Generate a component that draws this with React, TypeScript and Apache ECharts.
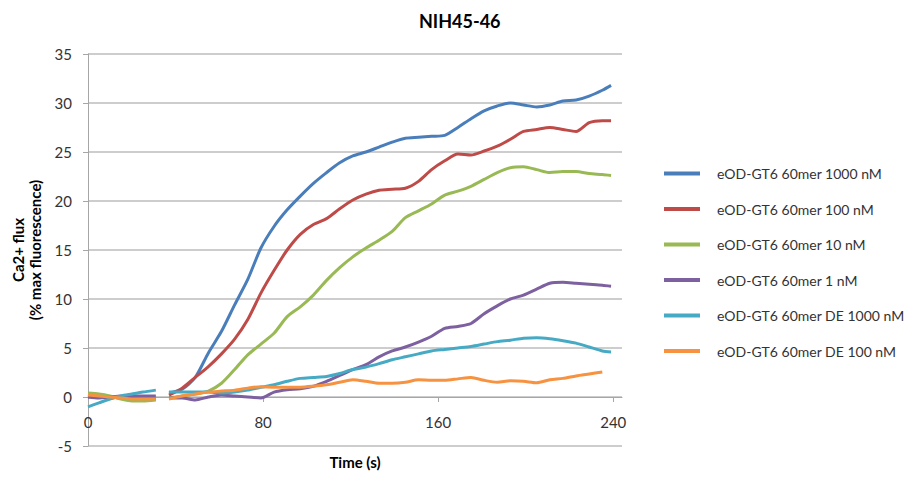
import React, { useEffect, useRef } from "react";
import * as echarts from "echarts";

const times = [
  0, 5, 10, 15, 20, 25, 31, 34, 37, 43, 49, 55, 61, 67, 73, 79, 85, 91, 97, 103, 109, 115, 121, 127, 133,
  139, 145, 151, 157, 163, 169, 175, 181, 187, 193, 199, 205, 211, 217, 223, 229, 235, 239,
];

const seriesNames = [
  "eOD-GT6 60mer 1000 nM",
  "eOD-GT6 60mer 100 nM",
  "eOD-GT6 60mer 10 nM",
  "eOD-GT6 60mer 1 nM",
  "eOD-GT6 60mer DE 1000 nM",
  "eOD-GT6 60mer DE 100 nM",
];

const colors = ["#4a7ebb", "#be4b48", "#98b954", "#7d60a0", "#46aac5", "#f69240"];

const s1000 = [
  0.0, 0.1, 0.0, -0.1, -0.2, -0.2, -0.2, null,
  0.4, 0.8, 2.0, 4.5, 6.7, 9.4, 12.0, 15.2, 17.4, 19.1, 20.5, 21.8, 22.9, 23.9, 24.6, 25.0, 25.5, 26.0,
  26.4, 26.5, 26.6, 26.7, 27.5, 28.4, 29.2, 29.7, 30.0, 29.8, 29.6, 29.8, 30.2, 30.3, 30.7, 31.3, 31.8,
];
const s100 = [
  0.1, 0.0, -0.1, 0.0, -0.1, -0.2, -0.2, null,
  0.2, 0.9, 2.0, 3.1, 4.4, 5.9, 7.9, 10.6, 12.9, 15.0, 16.6, 17.6, 18.2, 19.2, 20.1, 20.7, 21.1, 21.2,
  21.3, 22.0, 23.2, 24.1, 24.8, 24.7, 25.1, 25.6, 26.3, 27.1, 27.3, 27.5, 27.3, 27.1, 28.0, 28.2, 28.2,
];
const s10 = [
  0.4, 0.3, 0.1, -0.2, -0.4, -0.4, -0.3, null,
  -0.1, 0.1, 0.3, 0.6, 1.4, 2.8, 4.3, 5.4, 6.5, 8.2, 9.2, 10.4, 11.9, 13.2, 14.3, 15.2, 16.0, 16.9,
  18.3, 19.0, 19.7, 20.6, 21.0, 21.5, 22.2, 22.9, 23.4, 23.5, 23.2, 22.9, 23.0, 23.0, 22.8, 22.7, 22.6,
];
const s1 = [
  0.0, -0.1, 0.0, 0.1, 0.1, 0.1, 0.1, null,
  -0.1, -0.1, -0.3, 0.0, 0.2, 0.1, 0.0, -0.1, 0.5, 0.75, 0.85, 1.1, 1.6, 2.2, 2.8, 3.3, 4.1, 4.7,
  5.1, 5.6, 6.2, 7.0, 7.2, 7.5, 8.5, 9.3, 10.0, 10.4, 11.0, 11.6, 11.7, 11.6, 11.5, 11.4, 11.3,
];
const sDE1000 = [
  -1.0, -0.6, -0.2, 0.1, 0.3, 0.5, 0.7, null,
  0.5, 0.5, 0.5, 0.5, 0.4, 0.5, 0.7, 1.0, 1.25, 1.6, 1.9, 2.0, 2.1, 2.4, 2.8, 3.05, 3.4, 3.8,
  4.1, 4.4, 4.7, 4.85, 5.0, 5.15, 5.4, 5.65, 5.8, 6.0, 6.05, 5.95, 5.75, 5.5, 5.1, 4.7, 4.6,
];
const sDE100 = [
  0.2, 0.1, 0.0, -0.1, -0.2, -0.2, -0.2, null,
  -0.2, 0.1, 0.3, 0.5, 0.6, 0.7, 0.9, 1.05, 1.0, 1.0, 1.0, 1.1, 1.25, 1.5, 1.75, 1.6, 1.4, 1.4,
  1.5, 1.75, 1.7, 1.7, 1.85, 2.0, 1.7, 1.5, 1.65, 1.6, 1.45, 1.75, 1.9, 2.15, 2.35, 2.55, null,
];

const allValues = [s1000, s100, s10, s1, sDE1000, sDE100];
const xTickValues = [0, 80, 160, 240];

const FONT = "Lato, 'Open Sans', sans-serif";

export default function App() {
  const ref = useRef<HTMLDivElement>(null);

  useEffect(() => {
    if (!ref.current) return;
    const chart = echarts.init(ref.current, undefined, { renderer: "svg" });
    const series = allValues.map((vals, i) => ({
      name: seriesNames[i],
      type: "line",
      showSymbol: false,
      symbol: "none",
      smooth: 0.25,
      connectNulls: false,
      lineStyle: { width: 3, color: colors[i] },
      itemStyle: { color: colors[i] },
      data: times.map((t, j) => [t, vals[j] === null ? "-" : vals[j]]),
    }));

    chart.setOption({
      animation: false,
      backgroundColor: "#ffffff",
      textStyle: { fontFamily: FONT },
      title: {
        text: "NIH45-46",
        left: 414,
        top: 7,
        textStyle: { fontFamily: FONT, fontSize: 18, fontWeight: "bold", color: "#000" },
      },
      grid: {
        left: 88,
        right: 284,
        top: 54,
        bottom: 31,
        containLabel: false,
        outerBoundsMode: "none",
      },
      legend: {
        orient: "vertical",
        left: 664,
        top: 165,
        padding: 0,
        itemWidth: 36,
        itemHeight: 4,
        itemGap: 18.5,
        icon: "rect",
        data: seriesNames,
        textStyle: {
          fontFamily: FONT,
          fontSize: 14,
          color: "#333",
          lineHeight: 17,
          padding: [0, 0, 0, 12],
        },
      },
      xAxis: {
        type: "value",
        min: 0,
        max: 244,
        interval: 80,
        offset: -49,
        name: "Time (s)",
        nameLocation: "middle",
        nameGap: 57,
        nameTextStyle: { fontFamily: FONT, fontSize: 15, fontWeight: "bold", color: "#000" },
        axisLine: { onZero: false, lineStyle: { color: "#a6a6a6", width: 1 } },
        axisTick: { show: true, length: 5, lineStyle: { color: "#a6a6a6" }, customValues: xTickValues },
        axisLabel: {
          customValues: xTickValues,
          margin: 17,
          fontFamily: FONT,
          fontSize: 15,
          color: "#333",
          formatter: (v: number) => (xTickValues.indexOf(v) >= 0 ? String(v) : ""),
        },
        splitLine: { show: false },
      },
      yAxis: {
        type: "value",
        min: -5,
        max: 35,
        interval: 5,
        name: "Ca2+ flux\n(% max fluorescence)",
        nameLocation: "middle",
        nameRotate: 90,
        nameGap: 42,
        nameTextStyle: {
          fontFamily: FONT,
          fontSize: 15,
          fontWeight: "bold",
          color: "#000",
          lineHeight: 17,
          align: "center",
        },
        axisLine: { show: true, lineStyle: { color: "#a6a6a6", width: 1 } },
        axisTick: { show: true, length: 5, lineStyle: { color: "#a6a6a6" } },
        axisLabel: { margin: 16, fontFamily: FONT, fontSize: 15, color: "#333" },
        splitLine: { show: true, lineStyle: { color: "#bdbdbd", width: 1.5 } },
      },
      series,
    });

    return () => {
      chart.dispose();
    };
  }, []);

  return (
    <div
      ref={ref}
      style={{ position: "fixed", left: 0, top: 0, width: 906, height: 477, background: "#fff" }}
    />
  );
}
